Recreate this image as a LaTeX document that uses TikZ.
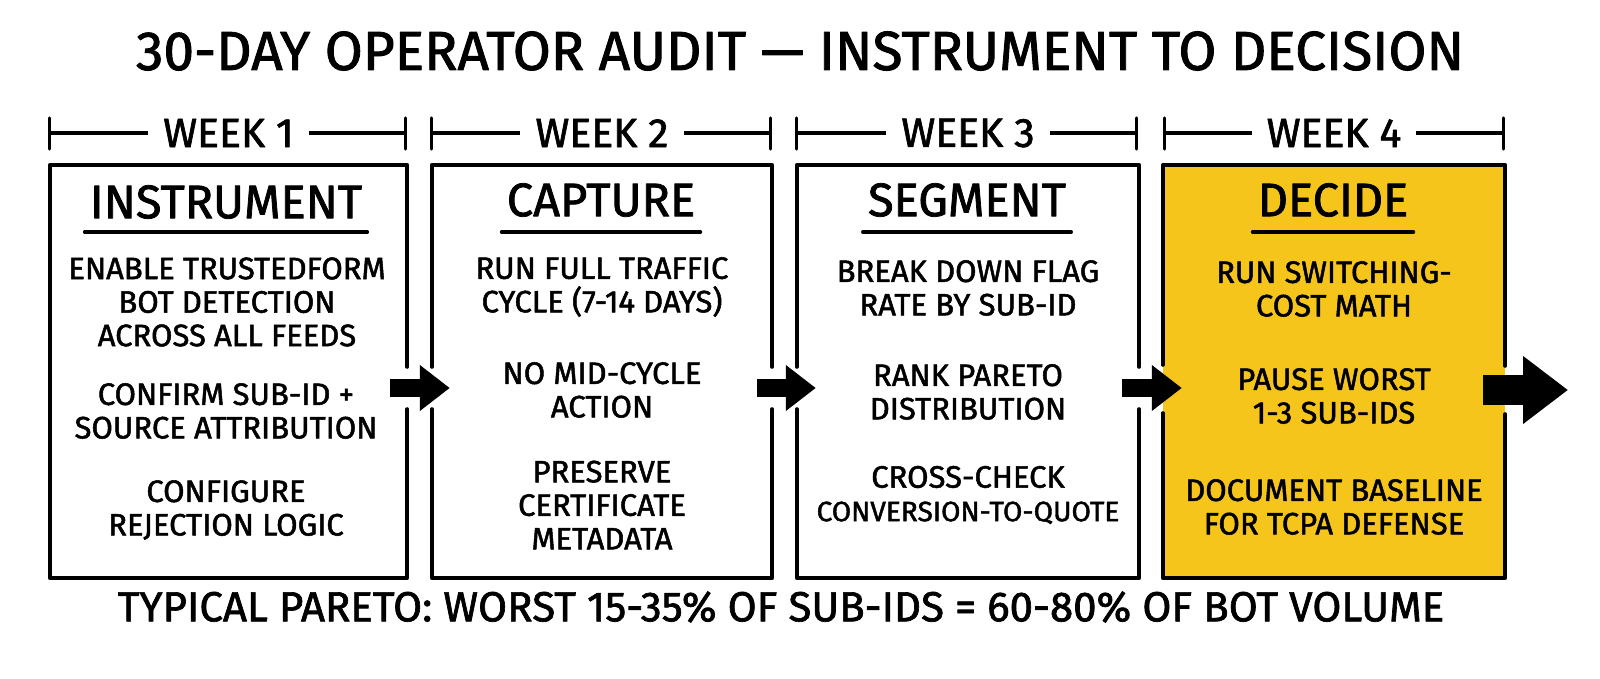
\documentclass[tikz,border=0pt]{standalone}
\usepackage{fontspec}
\setmainfont{Fira Sans}[FakeBold=1.6]
\usetikzlibrary{arrows.meta,calc}
\definecolor{decideyellow}{HTML}{F5C51C}
\begin{document}
\begin{tikzpicture}[x=1pt,y=-1pt, line cap=round, line join=round,
  boxline/.style={line width=3.6pt},
  bracketline/.style={line width=3.2pt},
  boxshape/.style={rectangle, inner sep=0pt, minimum height=413pt},
  body/.style={font=\fontsize{31}{33.5}\selectfont, align=center, inner sep=0pt},
  headtxt/.style={font=\fontsize{47}{50}\selectfont, inner sep=0pt},
  weektxt/.style={font=\fontsize{41}{44}\selectfont, inner xsep=15pt, inner ysep=2pt, fill=white},
  flow/.style={line width=18pt, line cap=butt, -{Triangle[length=30pt,width=44pt]}},
  bigflow/.style={line width=30pt, line cap=butt, -{Triangle[length=45pt,width=65pt]}},
]
\useasboundingbox (0,0) rectangle (1600,679);
\fill[white] (0,0) rectangle (1600,679);

% title
\node[font=\fontsize{55}{60}\selectfont, inner sep=0pt] (title) at (800,51) {30-DAY OPERATOR AUDIT — INSTRUMENT TO DECISION};

% boxes
\node[boxshape, minimum width=357pt] (b1) at (228.5,371.5) {};
\node[boxshape, minimum width=340pt] (b2) at (602,371.5) {};
\node[boxshape, minimum width=342pt] (b3) at (968,371.5) {};
\node[boxshape, minimum width=342pt, fill=decideyellow] (b4) at (1334,371.5) {};

% borders with gaps where the arrows pass
\draw[boxline] (b1.east |- 0,409) -- (b1.south east) -- (b1.south west) -- (b1.north west) -- (b1.north east) -- (b1.east |- 0,367);
\draw[boxline] (b2.west |- 0,367) -- (b2.north west) -- (b2.north east) -- (b2.east |- 0,367);
\draw[boxline] (b2.west |- 0,409) -- (b2.south west) -- (b2.south east) -- (b2.east |- 0,409);
\draw[boxline] (b3.west |- 0,367) -- (b3.north west) -- (b3.north east) -- (b3.east |- 0,367);
\draw[boxline] (b3.west |- 0,409) -- (b3.south west) -- (b3.south east) -- (b3.east |- 0,409);
\draw[boxline] (b4.west |- 0,365) -- (b4.north west) -- (b4.north east) -- (b4.east |- 0,366);
\draw[boxline] (b4.west |- 0,413) -- (b4.south west) -- (b4.south east) -- (b4.east |- 0,414);

% week brackets
\foreach \b/\w/\l/\r in {b1/1/0/-2, b2/2/0/-2, b3/3/0/-3, b4/4/2/-2}{
  \draw[bracketline] ([xshift=\l pt]\b.west |- 0,118) -- ([xshift=\l pt]\b.west |- 0,149);
  \draw[bracketline] ([xshift=\r pt]\b.east |- 0,118) -- ([xshift=\r pt]\b.east |- 0,149);
  \draw[bracketline] ([xshift=\l pt]\b.west |- 0,133) -- ([xshift=\r pt]\b.east |- 0,133);
  \node[weektxt] (wk\w) at (\b.center |- 0,133) {WEEK \w};
}

% headings
\node[headtxt] (h1) at (226,202) {INSTRUMENT};
\node[headtxt] (h2) at (601,200) {CAPTURE};
\node[headtxt] (h3) at (967,200) {SEGMENT};
\node[headtxt] (h4) at (1333,200) {DECIDE};
\foreach \h in {h1,h2,h3,h4}{
  \draw[boxline] ([xshift=-5pt]\h.west |- 0,232) -- ([xshift=5pt]\h.east |- 0,232);
}

% box 1 text
\node[body] (t11) at (227,302) {ENABLE TRUSTEDFORM\\BOT DETECTION\\ACROSS ALL FEEDS};
\node[body] (t12) at (226,411) {CONFIRM SUB-ID +\\SOURCE ATTRIBUTION};
\node[body] (t13) at (226,510) {CONFIGURE\\REJECTION LOGIC};

% box 2 text
\node[body] (t21) at (602,287) {RUN FULL TRAFFIC\\CYCLE (7-14 DAYS)};
\node[body] (t22) at (602,390) {NO MID-CYCLE\\ACTION};
\node[body] (t23) at (602,505) {PRESERVE\\CERTIFICATE\\METADATA};

% box 3 text
\node[body] (t31) at (968,288) {BREAK DOWN FLAG\\RATE BY SUB-ID};
\node[body] (t32) at (968,392) {RANK PARETO\\DISTRIBUTION};
\node[body] (t33) at (968,495) {CROSS-CHECK\\{\fontsize{28}{33.5}\selectfont CONVERSION-TO-QUOTE}};

% box 4 text
\node[body] (t41) at (1334,289) {RUN SWITCHING-\\COST MATH};
\node[body] (t42) at (1334,396) {PAUSE WORST\\1-3 SUB-IDS};
\node[body] (t43) at (1334,507) {DOCUMENT BASELINE\\FOR TCPA DEFENSE};

% arrows
\coordinate (out) at (1568,390);
\draw[flow] ($(b1.east)+(-17,16.5)$) -- ($(b2.west)+(18,16.5)$);
\draw[flow] ($(b2.east)+(-15,16.5)$) -- ($(b3.west)+(19,16.5)$);
\draw[flow] ($(b3.east)+(-17,16.5)$) -- ($(b4.west)+(19,16.5)$);
\draw[bigflow] ($(b4.east)+(-22,18.5)$) -- (out);

% footer
\node[font=\fontsize{42}{46}\selectfont, inner sep=0pt] (foot) at (781,607) {TYPICAL PARETO: WORST 15-35\% OF SUB-IDS = 60-80\% OF BOT VOLUME};
\end{tikzpicture}
\end{document}
